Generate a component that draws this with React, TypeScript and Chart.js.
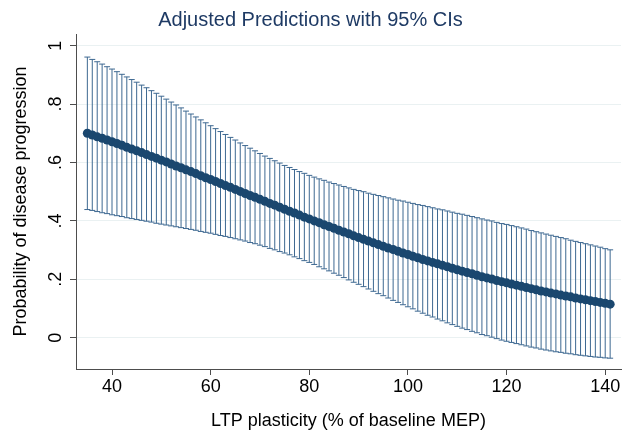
import React, { useEffect, useRef } from "react";
import { Chart, registerables } from "chart.js";

Chart.register(...registerables);

const xValues = [
  35, 36, 37, 38, 39, 40, 41, 42, 43, 44, 45, 46, 47, 48, 49, 50, 51, 52, 53, 54,
  55, 56, 57, 58, 59, 60, 61, 62, 63, 64, 65, 66, 67, 68, 69, 70, 71, 72, 73, 74,
  75, 76, 77, 78, 79, 80, 81, 82, 83, 84, 85, 86, 87, 88, 89, 90, 91, 92, 93, 94,
  95, 96, 97, 98, 99, 100, 101, 102, 103, 104, 105, 106, 107, 108, 109, 110, 111, 112, 113, 114,
  115, 116, 117, 118, 119, 120, 121, 122, 123, 124, 125, 126, 127, 128, 129, 130, 131, 132, 133, 134,
  135, 136, 137, 138, 139, 140, 141,
];

const meanValues = [
  0.700, 0.694, 0.688, 0.683, 0.677, 0.671, 0.665, 0.659, 0.652, 0.646,
  0.640, 0.634, 0.627, 0.621, 0.615, 0.608, 0.602, 0.595, 0.588, 0.582,
  0.575, 0.569, 0.562, 0.555, 0.548, 0.542, 0.535, 0.528, 0.521, 0.515,
  0.508, 0.501, 0.494, 0.487, 0.481, 0.474, 0.467, 0.460, 0.454, 0.447,
  0.440, 0.433, 0.427, 0.420, 0.413, 0.407, 0.400, 0.394, 0.387, 0.381,
  0.375, 0.368, 0.362, 0.356, 0.349, 0.343, 0.337, 0.331, 0.325, 0.319,
  0.313, 0.307, 0.302, 0.296, 0.290, 0.285, 0.279, 0.274, 0.268, 0.263,
  0.258, 0.253, 0.248, 0.243, 0.238, 0.233, 0.228, 0.223, 0.219, 0.214,
  0.209, 0.205, 0.201, 0.196, 0.192, 0.188, 0.184, 0.180, 0.176, 0.172,
  0.168, 0.164, 0.160, 0.157, 0.153, 0.150, 0.146, 0.143, 0.140, 0.136,
  0.133, 0.130, 0.127, 0.124, 0.121, 0.118, 0.115,
];

const lowerValues = [
  0.439, 0.436, 0.432, 0.428, 0.425, 0.421, 0.418, 0.415, 0.411, 0.408,
  0.405, 0.402, 0.399, 0.396, 0.392, 0.389, 0.386, 0.383, 0.380, 0.377,
  0.374, 0.371, 0.368, 0.364, 0.361, 0.358, 0.354, 0.350, 0.347, 0.343,
  0.339, 0.335, 0.331, 0.326, 0.322, 0.317, 0.312, 0.306, 0.301, 0.295,
  0.290, 0.284, 0.277, 0.271, 0.264, 0.258, 0.251, 0.243, 0.236, 0.229,
  0.221, 0.214, 0.206, 0.198, 0.190, 0.183, 0.175, 0.167, 0.159, 0.151,
  0.144, 0.136, 0.128, 0.121, 0.113, 0.106, 0.099, 0.091, 0.084, 0.077,
  0.071, 0.064, 0.058, 0.051, 0.045, 0.039, 0.033, 0.028, 0.022, 0.017,
  0.011, 0.007, 0.002, -0.003, -0.008, -0.012, -0.016, -0.020, -0.024, -0.028,
  -0.032, -0.035, -0.039, -0.042, -0.045, -0.048, -0.050, -0.053, -0.055, -0.058,
  -0.060, -0.062, -0.064, -0.066, -0.067, -0.069, -0.070,
];

const upperValues = [
  0.961, 0.953, 0.945, 0.937, 0.928, 0.920, 0.911, 0.902, 0.893, 0.884,
  0.875, 0.865, 0.856, 0.846, 0.837, 0.827, 0.817, 0.807, 0.797, 0.787,
  0.776, 0.766, 0.756, 0.746, 0.736, 0.726, 0.716, 0.706, 0.696, 0.686,
  0.677, 0.667, 0.658, 0.649, 0.640, 0.631, 0.622, 0.614, 0.606, 0.598,
  0.590, 0.583, 0.576, 0.569, 0.563, 0.556, 0.550, 0.544, 0.539, 0.533,
  0.528, 0.523, 0.518, 0.513, 0.508, 0.504, 0.500, 0.495, 0.491, 0.487,
  0.483, 0.479, 0.475, 0.471, 0.468, 0.464, 0.460, 0.456, 0.453, 0.449,
  0.445, 0.441, 0.438, 0.434, 0.430, 0.426, 0.423, 0.419, 0.415, 0.411,
  0.407, 0.403, 0.400, 0.395, 0.391, 0.388, 0.384, 0.380, 0.376, 0.372,
  0.367, 0.363, 0.359, 0.355, 0.351, 0.347, 0.343, 0.339, 0.334, 0.330,
  0.326, 0.322, 0.318, 0.314, 0.310, 0.305, 0.301,
];

const xTicks = [40, 60, 80, 100, 120, 140];
const xTickLabels = ["40", "60", "80", "100", "120", "140"];
const yTicks = [0, 0.2, 0.4, 0.6, 0.8, 1];
const yTickLabels = ["0", ".2", ".4", ".6", ".8", "1"];

const titleText = "Adjusted Predictions with 95% CIs";
const xTitle = "LTP plasticity (% of baseline MEP)";
const yTitle = "Probability of disease progression";

const FONT = "'Liberation Sans', Arial, sans-serif";
const NAVY = "#1a476f";
const TITLE_COLOR = "#1e3a64";
const CI_COLOR = "#3d6891";
const AXIS_COLOR = "#4d4d4d";

const ciPlugin = {
  id: "ciCaps",
  beforeDatasetsDraw(chart: any) {
    const { ctx, scales } = chart;
    const xs = scales.x;
    const ys = scales.y;
    ctx.save();
    ctx.strokeStyle = CI_COLOR;
    ctx.lineWidth = 1;
    ctx.beginPath();
    for (let i = 0; i < xValues.length; i++) {
      const px = xs.getPixelForValue(xValues[i]);
      const lo = ys.getPixelForValue(lowerValues[i]);
      const hi = ys.getPixelForValue(upperValues[i]);
      ctx.moveTo(px, lo);
      ctx.lineTo(px, hi);
      ctx.moveTo(px - 3, lo);
      ctx.lineTo(px + 3, lo);
      ctx.moveTo(px - 3, hi);
      ctx.lineTo(px + 3, hi);
    }
    ctx.stroke();
    ctx.restore();
  },
};

export default function App() {
  const canvasRef = useRef<HTMLCanvasElement | null>(null);

  useEffect(() => {
    const canvas = canvasRef.current;
    if (!canvas) return;
    const chart = new Chart(canvas, {
      type: "line",
      data: {
        datasets: [
          {
            label: "Prediction",
            data: xValues.map((x, i) => ({ x, y: meanValues[i] })),
            borderColor: NAVY,
            backgroundColor: NAVY,
            borderWidth: 2,
            pointRadius: 4.5,
            pointBorderWidth: 0,
            pointBackgroundColor: NAVY,
            tension: 0,
          },
        ],
      },
      options: {
        responsive: false,
        animation: false,
        devicePixelRatio: 1,
        layout: { padding: { top: 8, left: 0, right: 12, bottom: 0 } },
        plugins: {
          legend: { display: false },
          tooltip: { enabled: false },
          title: {
            display: true,
            text: titleText,
            color: TITLE_COLOR,
            font: { family: FONT, size: 20, weight: "normal", lineHeight: 1.2 },
            padding: { top: 0, bottom: 2 },
          },
        },
        scales: {
          x: {
            type: "linear",
            min: 32.7,
            max: 143.2,
            afterBuildTicks: (s: any) => {
              s.ticks = xTicks.map((v) => ({ value: v }));
            },
            afterFit: (s: any) => {
              s.height = 66;
            },
            grid: {
              drawOnChartArea: false,
              drawTicks: true,
              tickLength: 6,
              tickColor: AXIS_COLOR,
            },
            border: { color: AXIS_COLOR, width: 1 },
            ticks: {
              color: "#000",
              font: { family: FONT, size: 18 },
              padding: 1,
              maxRotation: 0,
              autoSkip: false,
              callback: (v: any) => xTickLabels[xTicks.indexOf(Number(v))] ?? "",
            },
            title: {
              display: true,
              text: xTitle,
              color: "#000",
              font: { family: FONT, size: 18 },
              padding: { top: 0, bottom: 3 },
            },
          },
          y: {
            type: "linear",
            min: -0.107,
            max: 1.04,
            afterBuildTicks: (s: any) => {
              s.ticks = yTicks.map((v) => ({ value: v }));
            },
            afterFit: (s: any) => {
              s.width = 76;
            },
            grid: {
              color: "#eaf1f2",
              lineWidth: 1,
              drawTicks: true,
              tickLength: 6,
              tickColor: AXIS_COLOR,
            },
            border: { color: AXIS_COLOR, width: 1 },
            ticks: {
              color: "#000",
              font: { family: FONT, size: 18 },
              padding: 6,
              minRotation: 90,
              maxRotation: 90,
              crossAlign: "center",
              autoSkip: false,
              callback: (v: any) => yTickLabels[yTicks.indexOf(Number(v))] ?? "",
            },
            title: {
              display: true,
              text: yTitle,
              color: "#000",
              font: { family: FONT, size: 18 },
              padding: { top: 10, bottom: 0 },
            },
          },
        },
      },
      plugins: [ciPlugin],
    } as any);
    return () => chart.destroy();
  }, []);

  return (
    <div style={{ position: "absolute", left: 0, top: 0, width: 633, height: 435, background: "#fff" }}>
      <canvas ref={canvasRef} width={633} height={435} style={{ display: "block" }} />
    </div>
  );
}
